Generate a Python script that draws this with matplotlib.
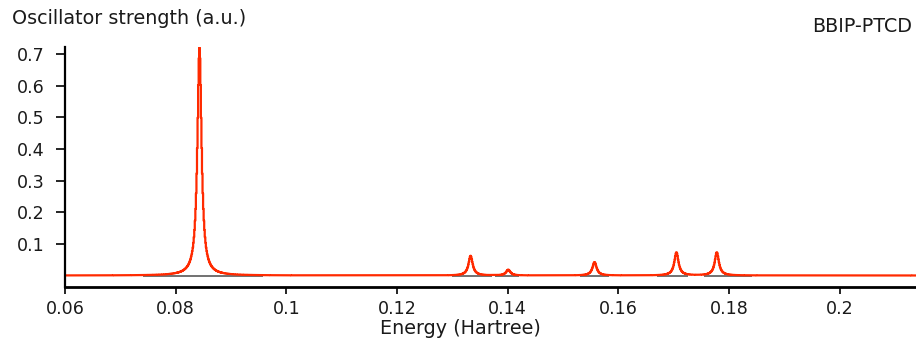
import numpy as np
import matplotlib.pyplot as plt

plt.rcParams['font.family'] = ['DejaVu Sans']

# excitation energies (Hartree) and oscillator strengths
energies = [0.0843, 0.1333, 0.1401, 0.1557, 0.1705, 0.1778]
strengths = [0.72, 0.062, 0.018, 0.042, 0.073, 0.073]
# half widths of the broadening and the range each peak is drawn over
hwhm = [0.00045, 0.00045, 0.00045, 0.00045, 0.00045, 0.00045]
seg_lo = [0.0741, 0.1300, 0.1378, 0.1530, 0.1670, 0.1755]
seg_hi = [0.0958, 0.1371, 0.1420, 0.1583, 0.1726, 0.1842]

xticks = [0.06, 0.08, 0.1, 0.12, 0.14, 0.16, 0.18, 0.2]
xlabels = ['0.06', '0.08', '0.1', '0.12', '0.14', '0.16', '0.18', '0.2']
yticks = [0.1, 0.2, 0.3, 0.4, 0.5, 0.6, 0.7]

red = '#ff2a00'
txt = '#1a1a1a'

fig = plt.figure(figsize=(9.16, 3.39), dpi=100)
ax = fig.add_axes([0.071, 0.153, 0.929, 0.708])

# whole spectrum, summed lorentzians
x = np.arange(0.06, 0.2145, 0.0001)
y = np.zeros_like(x)
for e, f, g in zip(energies, strengths, hwhm):
    y += f * g**2 / ((x - e)**2 + g**2)

# grey baseline pieces under each peak
for lo, hi in zip(seg_lo, seg_hi):
    ax.plot([lo, hi], [-0.002, -0.002], color='#666666', lw=1.3,
            solid_capstyle='butt')

ax.plot(x, y + 0.0008, color=red, lw=1.6, drawstyle='steps-mid')

ax.set_xlim(0.06, 0.2138)
ax.set_ylim(-0.036, 0.722)

ax.set_xticks(xticks)
ax.set_xticklabels(xlabels)
ax.set_yticks(yticks)
ax.tick_params(axis='both', labelsize=12.6, colors='black', labelcolor=txt,
               width=1.2)
ax.tick_params(axis='y', length=6.5, pad=8.5)
ax.tick_params(axis='x', length=5, pad=4)

for s in ['top', 'right']:
    ax.spines[s].set_visible(False)
ax.spines['left'].set_linewidth(1.6)
ax.spines['bottom'].set_linewidth(2)

fig.text(12 / 916, 1 - 19 / 339, 'Oscillator strength (a.u.)', fontsize=13.8,
         color=txt, ha='left', va='center')
fig.text(912 / 916, 1 - 26 / 339, 'BBIP-PTCD', fontsize=13.8,
         color=txt, ha='right', va='center')
fig.text(460 / 916, 1 - 329 / 339, 'Energy (Hartree)', fontsize=13.8,
         color=txt, ha='center', va='center')

fig.savefig('out.png', dpi=100)
